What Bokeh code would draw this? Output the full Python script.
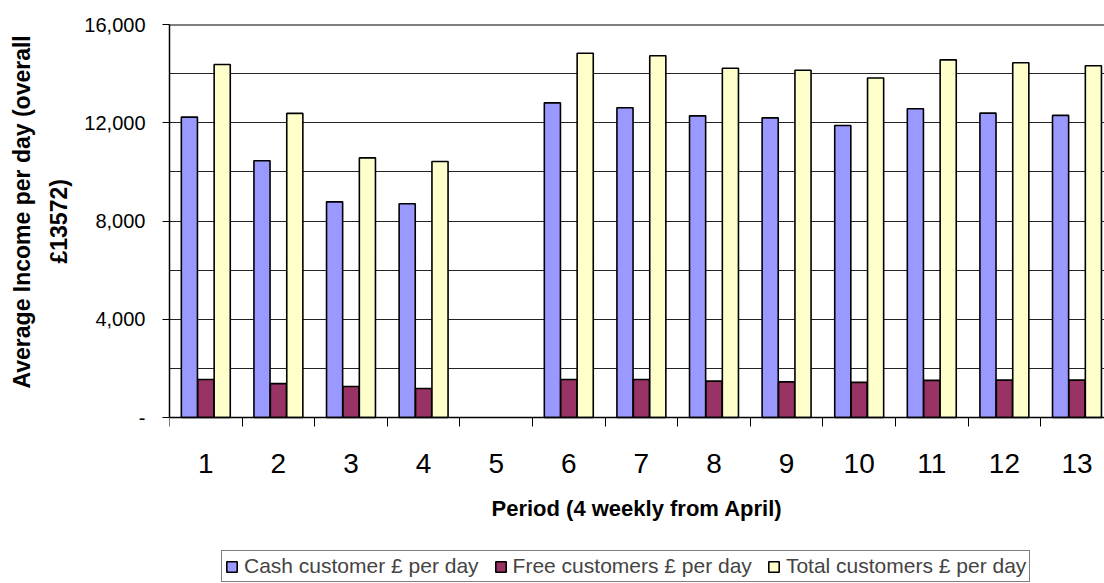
from bokeh.plotting import figure
from bokeh.models import FixedTicker, Range1d, Legend, LegendItem, ColumnDataSource, Span, Title
from bokeh.embed import file_html
from bokeh.resources import INLINE

# ---- data ----
periods = ["1", "2", "3", "4", "5", "6", "7", "8", "9", "10", "11", "12", "13"]
cash = [12230, 10450, 8780, 8700, None, 12810, 12610, 12280, 12200, 11890, 12570, 12390, 12300]
free = [1550, 1380, 1260, 1180, None, 1550, 1550, 1480, 1450, 1430, 1510, 1520, 1520]
total = [14370, 12380, 10570, 10420, None, 14830, 14730, 14220, 14140, 13820, 14560, 14440, 14320]
series_names = ["Cash customer £ per day", "Free customers £ per day", "Total customers £ per day"]
y_ticks = [0, 4000, 8000, 12000, 16000]
y_tick_labels = ["-", "4,000", "8,000", "12,000", "16,000"]
y_title_lines = ["Average Income per day (overall", "£13572)"]
x_title = "Period (4 weekly from April)"

FONT = "Liberation Sans"
colors = ["#9999FF", "#993366", "#FFFFCC"]
offsets = [-0.226, 0.0, 0.226]
bar_w = 0.222

pos = list(range(1, len(periods) + 1))

# frame runs from the top gridline down to the page bottom; value 0 sits 166px above the bottom
Y_MAX = 16000
y_bottom = -Y_MAX * 166.0 / 393.0

p = figure(width=1104, height=583,
           x_range=Range1d(0.5, 0.5 + 12.879), y_range=Range1d(y_bottom, Y_MAX),
           output_backend="svg", toolbar_location=None,
           min_border_left=169, min_border_right=0, min_border_top=24, min_border_bottom=0)
p.outline_line_color = None
p.background_fill_color = "white"
p.border_fill_color = "white"

renderers = []
for vals, col, off in zip([cash, free, total], colors, offsets):
    xs = [q + off for q, v in zip(pos, vals) if v is not None]
    tops = [v for v in vals if v is not None]
    src = ColumnDataSource(dict(x=xs, top=tops))
    r = p.vbar(x="x", top="top", width=bar_w, source=src, fill_color=col,
               line_color="black", line_width=1.6)
    renderers.append(r)

# grid
p.xgrid.visible = False
p.ygrid.ticker = FixedTicker(ticks=[2000, 4000, 6000, 8000, 10000, 12000, 14000])
p.ygrid.grid_line_color = "#222222"
p.ygrid.grid_line_width = 1
p.add_layout(Span(location=Y_MAX, dimension="width", line_color="black", line_width=2))

# y axis
ya = p.yaxis[0]
ya.ticker = FixedTicker(ticks=y_ticks, minor_ticks=[])
ya.bounds = (0, Y_MAX)
ya.major_label_overrides = dict(zip(y_ticks, y_tick_labels))
ya.major_tick_out = 7
ya.major_tick_in = 0
ya.minor_tick_out = 0
ya.minor_tick_in = 0
ya.axis_line_color = "black"
ya.axis_line_width = 1.5
ya.major_tick_line_color = "black"
ya.major_label_text_font = FONT
ya.major_label_text_font_size = "20px"
ya.major_label_text_color = "black"
ya.major_label_standoff = 17

# y title: two lines, centred on the 0..16000 span (offsets measured from frame bottom)
for line, off, so in [(y_title_lines[1], 320, 19), (y_title_lines[0], 195, -1)]:
    t = Title(text=line, align="left", offset=off, standoff=so,
              text_font=FONT, text_font_size="23px", text_font_style="bold",
              text_color="black")
    p.add_layout(t, "left")

# x axis, drawn at value 0
xa = p.xaxis[0]
xa.fixed_location = 0
xa.ticker = FixedTicker(ticks=pos, minor_ticks=[q + 0.5 for q in range(0, len(periods) + 1)])
xa.major_label_overrides = dict(zip(pos, periods))
xa.major_tick_out = 0
xa.major_tick_in = 0
xa.minor_tick_out = 9
xa.minor_tick_in = 0
xa.minor_tick_line_color = "black"
xa.axis_line_color = "black"
xa.axis_line_width = 1.5
xa.major_label_text_font = FONT
xa.major_label_text_font_size = "28px"
xa.major_label_text_color = "black"
xa.major_label_standoff = 27
xa.axis_label = x_title
xa.axis_label_text_font = FONT
xa.axis_label_text_font_size = "22px"
xa.axis_label_text_font_style = "bold"
xa.axis_label_text_color = "black"
xa.axis_label_standoff = 20

legend = Legend(items=[LegendItem(label=n, renderers=[r]) for n, r in zip(series_names, renderers)],
                location=(52, 1), orientation="horizontal",
                border_line_color="black", border_line_width=1,
                background_fill_color="white", background_fill_alpha=1,
                label_text_font=FONT, label_text_font_size="21px",
                glyph_width=13, glyph_height=13, label_standoff=6,
                spacing=15, padding=3, margin=0, label_height=20)
p.add_layout(legend, "center")

open("out.html", "w").write(file_html(p, INLINE))
